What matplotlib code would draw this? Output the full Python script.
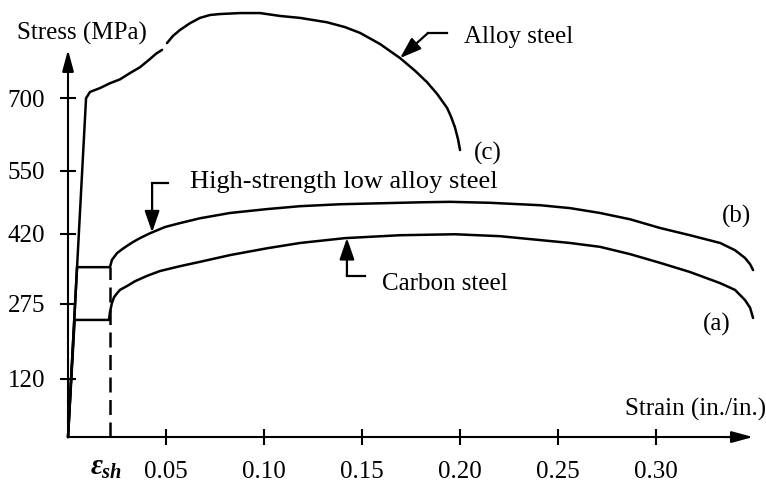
import numpy as np
import matplotlib.pyplot as plt

plt.rcParams['font.family'] = ['Liberation Serif', 'DejaVu Serif']
plt.rcParams['mathtext.fontset'] = 'custom'
plt.rcParams['mathtext.rm'] = 'Liberation Serif'
plt.rcParams['mathtext.it'] = 'Liberation Serif:italic:bold'

# stress-strain curves, strain in in./in. and stress in MPa
# (c) alloy steel - small break in the line near the top of the stress axis
alloy_strain = [0, 0.0092, 0.0112, 0.0163, 0.0214, 0.0265, 0.0316, 0.0367, 0.0418,
                0.0449, 0.0480, np.nan,
                0.0505, 0.0536, 0.0571, 0.0622, 0.0673, 0.0724, 0.0776, 0.0878,
                0.0980, 0.1082, 0.1184, 0.1321, 0.1413, 0.1490, 0.1592, 0.1694,
                0.1770, 0.1832, 0.1883, 0.1934, 0.1954, 0.1974, 0.1990, 0.2000]
alloy_stress = [0, 700, 713, 721, 731, 739, 752, 764, 781,
                792, 800, np.nan,
                814, 829, 841, 855, 866, 872, 874, 876,
                876, 870, 866, 857, 847, 835, 812, 783,
                757, 733, 709, 680, 662, 640, 615, 593]

# (b) high-strength low alloy steel
hsla_strain = [0, 0.0046, 0.0214, 0.0224, 0.0250, 0.0276, 0.0301, 0.0332, 0.0367,
               0.0418, 0.0495, 0.0571, 0.0673, 0.0827, 0.1015, 0.1184, 0.1388,
               0.1592, 0.1796, 0.1949, 0.2153, 0.2408, 0.2561, 0.2714, 0.2867,
               0.3020, 0.3173, 0.3327, 0.3403, 0.3454, 0.3480, 0.3495]
hsla_stress = [0, 351, 351, 366, 380, 388, 395, 403, 411,
               421, 434, 442, 452, 463, 471, 477, 481,
               483, 485, 486, 484, 479, 473, 463, 450,
               432, 417, 401, 386, 370, 357, 345]

# (a) carbon steel
carbon_strain = [0, 0.0034, 0.0209, 0.0214, 0.0224, 0.0235, 0.0250, 0.0265, 0.0301,
                 0.0342, 0.0403, 0.0469, 0.0571, 0.0673, 0.0827, 0.1015, 0.1184,
                 0.1413, 0.1694, 0.1974, 0.2204, 0.2408, 0.2561, 0.2714, 0.2867,
                 0.3020, 0.3173, 0.3327, 0.3403, 0.3454, 0.3480, 0.3495]
carbon_stress = [0, 242, 242, 258, 277, 289, 297, 304, 312,
                 322, 333, 343, 353, 362, 376, 390, 401,
                 411, 417, 419, 415, 407, 401, 393, 378,
                 360, 341, 318, 304, 283, 267, 246]

esh = 0.0214          # onset of strain hardening
esh_top = 351         # dashed marker runs up to the HSLA plateau

xticks = [0.05, 0.10, 0.15, 0.20, 0.25, 0.30]
yticks = [120, 275, 420, 550, 700]


def on_curve(x, xs, ys):
    xs = np.asarray(xs, float)
    ys = np.asarray(ys, float)
    ok = ~np.isnan(xs)
    return float(np.interp(x, xs[ok], ys[ok]))


fig = plt.figure(figsize=(7.66, 4.84), dpi=100)
ax = fig.add_axes([0, 0, 1, 1])
ax.set_xlim(-0.0347, 0.3561)
ax.set_ylim(-97, 903)

for side in ('top', 'right'):
    ax.spines[side].set_visible(False)
for side in ('left', 'bottom'):
    ax.spines[side].set_position(('data', 0))
    ax.spines[side].set_linewidth(1.5)
ax.spines['left'].set_bounds(0, 775)
ax.spines['bottom'].set_bounds(0, 0.340)

head = dict(arrowstyle='-|>,head_length=1.3,head_width=0.35', mutation_scale=10,
            lw=1.5, color='black', shrinkA=0, shrinkB=0)
ax.annotate('', xy=(0, 800), xytext=(0, 760), arrowprops=head)
ax.annotate('', xy=(0.3495, 0), xytext=(0.335, 0), arrowprops=head)

ax.set_xticks(xticks, labels=[f'{t:.2f}' for t in xticks])
ax.set_yticks(yticks, labels=[str(v) for v in yticks])
ax.tick_params(direction='inout', length=11, width=1.5, labelsize=18)
ax.tick_params(axis='y', pad=11)
ax.tick_params(axis='x', pad=12)

line = dict(color='black', lw=1.8, solid_joinstyle='round', solid_capstyle='round')
ax.plot(alloy_strain, alloy_stress, **line)
ax.plot(hsla_strain, hsla_stress, **line)
ax.plot(carbon_strain, carbon_stress, **line)
ax.plot([esh, esh], [0, esh_top], color='black', lw=1.8, ls=(0, (6, 3)))

ax.annotate(r'$\varepsilon_{sh}$', xy=(esh, 0), xytext=(-3, -22),
            textcoords='offset points', ha='center', va='center', fontsize=21)

# leader lines with arrows pointing at the curves
tip_head = dict(arrowstyle='-|>,head_length=1.3,head_width=0.45', mutation_scale=10,
                lw=1.6, color='black', shrinkA=0, shrinkB=0)


def leader(points, tip):
    xs, ys = zip(*points)
    ax.plot(xs, ys, color='black', lw=1.6)
    ax.annotate('', xy=tip, xytext=points[-1], arrowprops=tip_head)


leader([(0.1934, 835), (0.1837, 835)],
       (0.1694, on_curve(0.1694, alloy_strain, alloy_stress)))
leader([(0.0510, 525), (0.0429, 525)],
       (0.0429, on_curve(0.0429, hsla_strain, hsla_stress)))
leader([(0.1515, 333), (0.1423, 333)],
       (0.1423, on_curve(0.1423, carbon_strain, carbon_stress)))

txt = dict(fontsize=18, va='baseline', ha='left')
ax.text(-0.0260, 822, 'Stress (MPa)', **txt)
ax.text(0.2020, 814, 'Alloy steel', **txt)
ax.text(0.2071, 574, '(c)', **txt)
ax.text(0.0622, 514, 'High-strength low alloy steel', fontsize=19, va='baseline', ha='left')
ax.text(0.3337, 444, '(b)', **txt)
ax.text(0.1602, 304, 'Carbon steel', **txt)
ax.text(0.3240, 221, '(a)', **txt)
ax.text(0.2842, 45, 'Strain (in./in.)', **txt)

fig.savefig('out.png', dpi=100)
